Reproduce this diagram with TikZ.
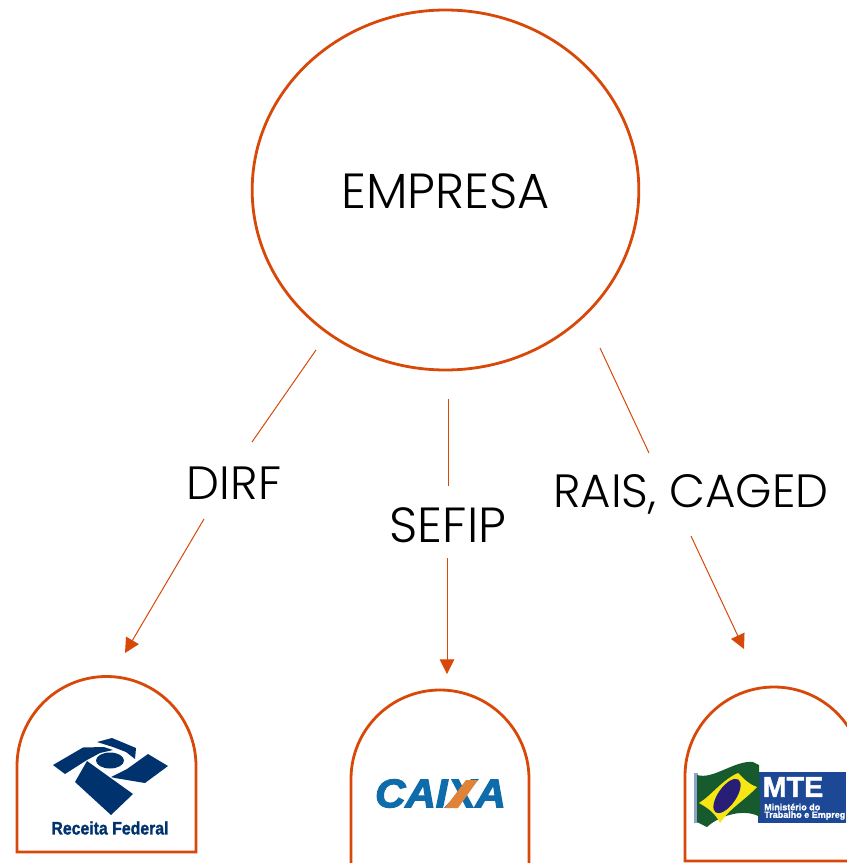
\documentclass[tikz,border=0pt]{standalone}
\usepackage{fontspec}
\setmainfont{Poppins}[UprightFont=* Light]
\newfontfamily\heavyfont[FakeBold=1.5]{Liberation Sans}
\newfontfamily\caixafont[FakeBold=3]{Liberation Sans}
\usetikzlibrary{arrows.meta,shapes.geometric}
\definecolor{orangeline}{RGB}{216,72,8}
\definecolor{receitablue}{RGB}{0,51,109}
\definecolor{caixablue}{RGB}{15,108,171}
\definecolor{caixaorange}{RGB}{224,130,56}
\definecolor{mteblue}{RGB}{28,72,150}
\definecolor{mtegreen}{RGB}{22,90,45}
\definecolor{mteyellow}{RGB}{245,230,20}
\definecolor{mtedisc}{RGB}{40,30,120}
\tikzset{
  bubble/.style={draw=orangeline,line width=2.1pt},
  flowline/.style={draw=orangeline,line width=0.75pt},
  flowarrow/.style={flowline,-{Triangle[length=11pt,width=11pt,fill=orangeline]}},
  flowtext/.style={inner sep=0.75pt,font=\fontsize{35}{42}\selectfont},
  bigtext/.style={inner sep=0.75pt,font=\fontsize{37}{44}\selectfont},
}
\begin{document}
\begin{tikzpicture}[x=0.75pt,y=0.75pt,yscale=-1,xscale=1]
    \useasboundingbox (0,0) rectangle (846,863);

    %Shape: Ellipse
    \node (empresa) at (445.5,190) [ellipse,bubble,minimum width=290pt,minimum height=270pt,inner sep=0pt] {};
    %Shape: Boxes
    \draw [bubble] (17,852) -- (17,766) arc (180:360:89.5) -- (196,852) -- cycle ;
    \draw [bubble] (351,870) -- (351,779) arc (180:360:89) -- (529,870) ;
    \draw [bubble] (685,861) -- (685,776) arc (180:360:89) -- (863,861) -- cycle ;

    % Text Node
    \node (empresatext) at (445.5,191) [bigtext] {EMPRESA};
    \node (dirf) at (234,483) [flowtext] {DIRF};
    \node (sefip) at (448,525) [bigtext] {SEFIP};
    \node (rais) at (691,494) [flowtext] {RAIS, CAGED};

    % Connector ends
    \coordinate (dirfstart) at (316,350);
    \coordinate (dirfin) at (252,442);
    \coordinate (dirfout) at (204,519);
    \coordinate (receitain) at (125,653);
    \coordinate (sefipstart) at (448,399);
    \coordinate (sefipin) at (448,486);
    \coordinate (sefipout) at (447,558);
    \coordinate (caixain) at (447,674);
    \coordinate (raisstart) at (600,348);
    \coordinate (raisin) at (649,453);
    \coordinate (raisout) at (691,536);
    \coordinate (mtein) at (744,649);

    \draw [flowline] (dirfstart) -- (dirfin) ;
    \draw [flowarrow] (dirfout) -- (receitain) ;
    \draw [flowline] (sefipstart) -- (sefipin) ;
    \draw [flowline] (raisstart) -- (raisin) ;
    \draw [flowarrow] (sefipout) -- (caixain) ;
    \draw [flowarrow] (raisout) -- (mtein) ;

    %Shape: Receita logo
    \fill [receitablue] (53,765) -- (83,747.5) -- (104,747) -- (113,750) -- (100,753) -- (87,760) -- (65,774) -- cycle ;
    \fill [receitablue] (97,742) -- (112,738) -- (136,748) -- (135,759) -- (126,752) -- (113,747) -- cycle ;
    \fill [receitablue] (75,782) -- (87,761) -- (133,794) -- (111,815) -- cycle ;
    \fill [receitablue] (111,777) -- (127,769) -- (148,754) -- (168,766) -- (145,783) -- (115,778) -- cycle ;
    \fill [receitablue] (110,760.5) ellipse (14 and 8) ;
    \node (receitatext) at (110,828) [inner sep=0pt,text=receitablue,xscale=0.88,font=\heavyfont\bfseries\fontsize{13.5}{16}\selectfont] {Receita Federal};

    %Shape: Caixa logo
    \node (caixatext) at (440.5,793.5) [inner sep=0pt,text=caixablue,xscale=1.05,font=\caixafont\bfseries\itshape\fontsize{30}{36}\selectfont] {CAIXA};
    \fill [caixaorange] (466,780) -- (478,780) -- (458,808) -- (445,808) -- cycle ;

    %Shape: MTE logo
    \fill [mteblue] (758,772) rectangle (846,823);
    \fill [mteblue!50] (694,773) rectangle (698,823);
    \fill [mtegreen] (697,775) .. controls (713,780) and (735,760) .. (753,762) -- (759,765) -- (760,817) .. controls (745,808) and (720,815) .. (707,827) -- (697,822) -- cycle ;
    \fill [mteyellow] (699,803) .. controls (712,795) and (722,780) .. (738,773) .. controls (745,780) and (750,785) .. (757,787) .. controls (745,800) and (730,808) .. (720,823) .. controls (715,813) and (708,808) .. (699,803) -- cycle ;
    \fill [mtedisc] (727,796) [rotate around={35:(727,796)}] ellipse (9 and 20) ;
    \node (mtetext) at (793,787) [inner sep=0pt,text=white,font=\heavyfont\bfseries\fontsize{21.5}{24}\selectfont] {MTE};
    \node (mtename) at (764,807) [anchor=west,inner sep=0pt,text=white,font=\heavyfont\bfseries\fontsize{6.75}{8}\selectfont] {Ministério do};
    \node (mtework) at (764,815.5) [anchor=west,inner sep=0pt,text=white,font=\heavyfont\bfseries\fontsize{6.75}{8}\selectfont] {Trabalho e Empreg};

\end{tikzpicture}
\end{document}
